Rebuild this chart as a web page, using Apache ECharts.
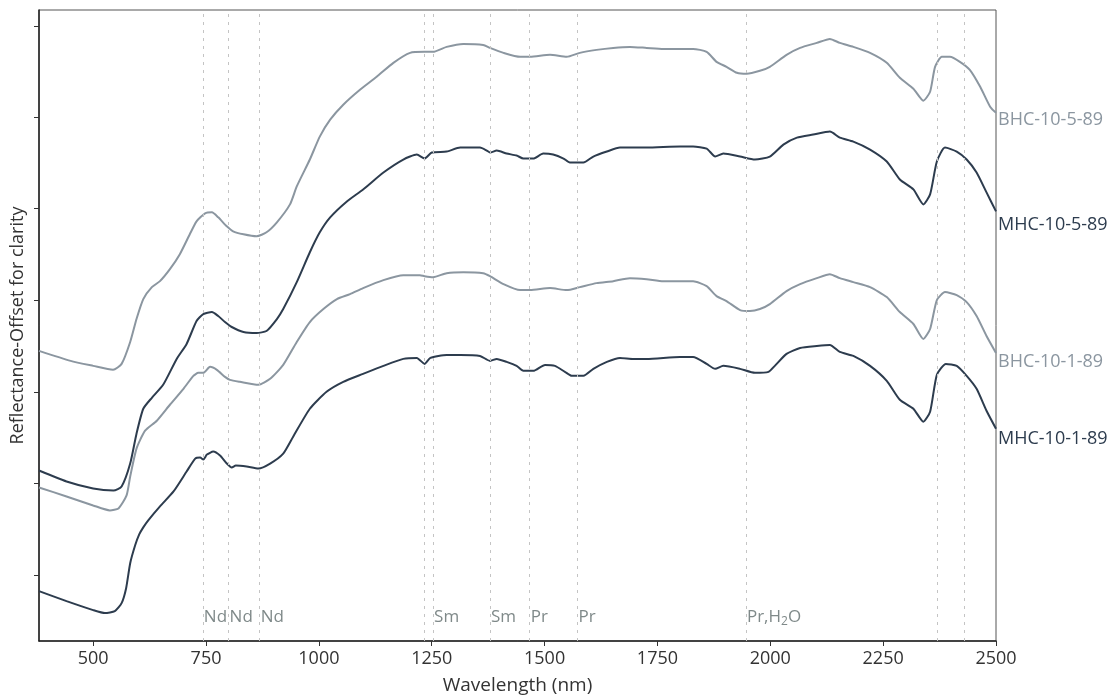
<!DOCTYPE html>
<html>
<head>
<meta charset="utf-8">
<script src="https://cdn.jsdelivr.net/npm/echarts@6/dist/echarts.min.js"></script>
<style>
  html, body { margin: 0; padding: 0; background: #fff; }
  #chart { width: 1119px; height: 700px; }
</style>
</head>
<body>
<div id="chart"></div>
<script>
// ---- Data (wavelength in nm, reflectance offset in arbitrary units) ----
const bhc105Wl = [380,450,500,544,563,582,596,611,630,648,670,692,714,729,748,763,777,796,810,833,862,884,907,936,951,980,1002,1025,1054,1091,1128,1165,1202,1234,1253,1283,1320,1364,1379,1409,1446,1468,1512,1549,1578,1615,1652,1689,1726,1763,1800,1829,1859,1881,1903,1926,1948,1977,1999,2036,2066,2103,2132,2154,2184,2221,2258,2287,2317,2339,2354,2365,2380,2398,2420,2442,2465,2487,2500];
const bhc105R  = [2.91,2.81,2.76,2.72,2.78,3.00,3.23,3.43,3.55,3.61,3.73,3.88,4.08,4.21,4.29,4.30,4.25,4.16,4.11,4.08,4.06,4.10,4.20,4.38,4.56,4.83,5.06,5.23,5.38,5.53,5.66,5.80,5.90,5.91,5.91,5.96,5.99,5.98,5.95,5.90,5.86,5.86,5.88,5.86,5.90,5.93,5.95,5.96,5.95,5.94,5.94,5.94,5.91,5.81,5.76,5.70,5.69,5.72,5.76,5.88,5.95,6.00,6.04,6.00,5.96,5.90,5.80,5.65,5.54,5.42,5.51,5.76,5.86,5.86,5.81,5.73,5.56,5.36,5.30];

const mhc105Wl = [380,441,500,545,563,582,596,611,630,655,685,707,729,744,763,777,792,807,833,862,884,907,921,951,980,1002,1025,1062,1098,1143,1187,1217,1234,1250,1283,1313,1357,1372,1379,1394,1416,1438,1453,1475,1497,1519,1542,1556,1586,1608,1638,1667,1726,1800,1829,1859,1878,1896,1933,1966,1999,2029,2059,2095,2132,2154,2184,2221,2258,2287,2317,2339,2354,2369,2387,2413,2435,2457,2479,2500];
const mhc105R  = [1.71,1.60,1.53,1.51,1.55,1.78,2.08,2.33,2.44,2.57,2.83,2.98,3.21,3.28,3.30,3.26,3.20,3.15,3.10,3.09,3.11,3.23,3.33,3.60,3.90,4.10,4.25,4.41,4.53,4.70,4.83,4.88,4.84,4.90,4.91,4.95,4.95,4.92,4.90,4.92,4.89,4.87,4.84,4.84,4.89,4.88,4.84,4.80,4.80,4.86,4.91,4.95,4.95,4.96,4.96,4.94,4.86,4.89,4.86,4.83,4.86,4.98,5.05,5.08,5.11,5.05,5.01,4.93,4.81,4.63,4.53,4.38,4.48,4.81,4.95,4.91,4.83,4.70,4.50,4.31];

const bhc101Wl = [380,441,500,537,556,574,582,596,615,641,670,700,722,733,744,759,774,792,803,825,866,892,921,951,980,1010,1040,1069,1098,1143,1187,1224,1234,1253,1283,1320,1364,1379,1409,1446,1468,1512,1549,1578,1615,1652,1689,1726,1763,1829,1859,1881,1903,1933,1955,1977,1999,2036,2066,2103,2132,2154,2184,2221,2258,2287,2317,2339,2354,2369,2387,2413,2435,2457,2479,2500];
const bhc101R  = [1.54,1.45,1.36,1.31,1.33,1.46,1.65,1.93,2.11,2.21,2.37,2.53,2.66,2.69,2.69,2.75,2.72,2.65,2.62,2.60,2.57,2.63,2.77,3.00,3.20,3.33,3.43,3.48,3.54,3.62,3.67,3.67,3.66,3.65,3.69,3.70,3.69,3.66,3.58,3.52,3.52,3.54,3.52,3.55,3.59,3.61,3.64,3.63,3.61,3.61,3.56,3.46,3.41,3.32,3.31,3.33,3.38,3.51,3.58,3.64,3.68,3.64,3.60,3.55,3.45,3.30,3.18,3.03,3.13,3.42,3.50,3.47,3.40,3.26,3.06,2.89];

const mhc101Wl = [380,441,500,526,548,563,573,582,593,602,611,622,648,678,707,726,737,744,752,766,781,796,807,816,840,866,892,921,943,980,1017,1054,1098,1143,1187,1217,1234,1247,1283,1313,1357,1379,1394,1416,1438,1453,1475,1501,1523,1545,1560,1586,1608,1638,1667,1697,1726,1800,1829,1859,1878,1896,1933,1966,1996,2010,2036,2066,2103,2132,2154,2184,2221,2258,2287,2317,2339,2354,2369,2389,2413,2435,2457,2479,2500];
const mhc101R  = [0.50,0.40,0.31,0.28,0.30,0.38,0.53,0.78,0.96,1.07,1.14,1.21,1.35,1.50,1.70,1.83,1.84,1.82,1.87,1.90,1.86,1.78,1.74,1.76,1.75,1.73,1.78,1.88,2.05,2.33,2.50,2.60,2.68,2.76,2.83,2.84,2.78,2.84,2.87,2.87,2.86,2.81,2.83,2.80,2.76,2.71,2.71,2.77,2.76,2.70,2.66,2.66,2.73,2.80,2.84,2.83,2.83,2.85,2.85,2.78,2.73,2.76,2.73,2.69,2.70,2.76,2.88,2.94,2.96,2.97,2.90,2.86,2.76,2.61,2.42,2.33,2.20,2.30,2.67,2.78,2.76,2.66,2.53,2.31,2.13];

const seriesNames = ['BHC-10-5-89', 'MHC-10-5-89', 'BHC-10-1-89', 'MHC-10-1-89'];

// absorption feature lines (nm) and their labels
const featureLines = [743, 800, 869, 1234, 1253, 1379, 1467, 1573, 1946, 2369, 2429];
const featureLabelWl = [743, 800, 869, 1253, 1379, 1467, 1573, 1946];
const featureLabelText = ['Nd', 'Nd', 'Nd', 'Sm', 'Sm', 'Pr', 'Pr', '{n|Pr,H}{s|2}{n|O}'];
const featureLabelLevel = 0.24;

// axis ticks
const xTicks = [500, 750, 1000, 1250, 1500, 1750, 2000, 2250, 2500];
const yTicks = [0.66, 1.58, 2.50, 3.42, 4.34, 5.25, 6.17];

const LIGHT = '#8b96a0';
const DARK = '#2d3c4e';
const ANNO = '#5f6c6c';
const FONT = 'Open Sans';

function zip(a, b) { return a.map((v, i) => [v, b[i]]); }

const curves = [
  { name: seriesNames[0], data: zip(bhc105Wl, bhc105R), color: LIGHT, off: [2, 7] },
  { name: seriesNames[1], data: zip(mhc105Wl, mhc105R), color: DARK, off: [2, 14] },
  { name: seriesNames[2], data: zip(bhc101Wl, bhc101R), color: LIGHT, off: [2, 9] },
  { name: seriesNames[3], data: zip(mhc101Wl, mhc101R), color: DARK, off: [2, 10] }
];

const series = curves.map(c => ({
  name: c.name,
  type: 'line',
  data: c.data,
  showSymbol: false,
  symbol: 'none',
  smooth: 0.2,
  lineStyle: { color: c.color, width: 2 },
  itemStyle: { color: c.color },
  z: 3,
  endLabel: {
    show: true,
    formatter: c.name,
    color: c.color,
    fontFamily: FONT,
    fontSize: 18,
    distance: 0,
    offset: c.off
  }
}));

series.push({
  name: 'features',
  type: 'scatter',
  symbolSize: 0,
  data: featureLabelWl.map((w, i) => ({ value: [w, featureLabelLevel], label: { formatter: featureLabelText[i] } })),
  label: {
    show: true,
    position: 'right',
    distance: 1,
    color: ANNO,
    fontFamily: FONT,
    fontSize: 17,
    rich: {
      n: { fontFamily: FONT, fontSize: 17, color: ANNO },
      s: { fontFamily: FONT, fontSize: 12, color: ANNO, padding: [9, 0, 0, 0] }
    }
  },
  markLine: {
    silent: true,
    symbol: 'none',
    label: { show: false },
    lineStyle: { color: '#c4c4c4', type: [3, 5], width: 1 },
    data: featureLines.map(w => ({ xAxis: w }))
  },
  z: 1
});

const chart = echarts.init(document.getElementById('chart'), null, { renderer: 'canvas' });
chart.setOption({
  animation: false,
  backgroundColor: '#ffffff',
  grid: { left: 39, right: 123, top: 10, bottom: 57, show: true, borderColor: '#555', borderWidth: 1 },
  xAxis: {
    type: 'value',
    min: 380,
    max: 2500,
    name: 'Wavelength (nm)',
    nameLocation: 'middle',
    nameGap: 35,
    nameTextStyle: { fontFamily: FONT, fontSize: 19, color: '#333' },
    axisLine: { show: true, lineStyle: { color: '#222', width: 1.5 } },
    axisTick: { show: true, length: 5, customValues: xTicks, lineStyle: { color: '#333' } },
    axisLabel: { show: true, customValues: xTicks, margin: 9, fontFamily: FONT, fontSize: 18, color: '#333', formatter: v => String(v) },
    splitLine: { show: false }
  },
  yAxis: {
    type: 'value',
    min: 0,
    max: 6.33,
    name: 'Reflectance-Offset for clarity',
    nameLocation: 'middle',
    nameGap: 12,
    nameTextStyle: { fontFamily: FONT, fontSize: 18, color: '#333' },
    axisLine: { show: true, lineStyle: { color: '#222', width: 1.5 } },
    axisTick: { show: true, length: 5, customValues: yTicks, lineStyle: { color: '#333' } },
    axisLabel: { show: false },
    splitLine: { show: false }
  },
  series: series
});
</script>
</body>
</html>
